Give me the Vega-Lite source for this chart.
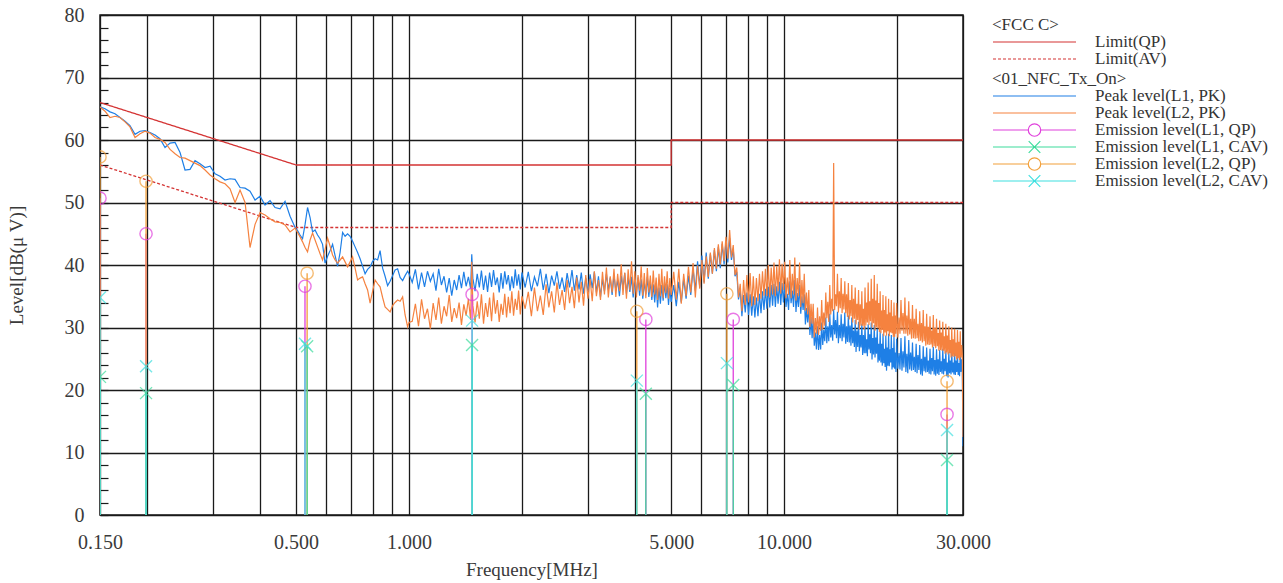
{
  "$schema": "https://vega.github.io/schema/vega-lite/v6.json",
  "width": 863,
  "height": 500,
  "autosize": {"type": "none"},
  "padding": {"left": 100, "top": 15, "right": 320, "bottom": 68},
  "background": "white",
  "datasets": {
    "limit": [
      {"s": "Limit(QP)", "f": 0.15, "v": 66},
      {"s": "Limit(QP)", "f": 0.5, "v": 56},
      {"s": "Limit(QP)", "f": 5, "v": 56},
      {"s": "Limit(QP)", "f": 5, "v": 60},
      {"s": "Limit(QP)", "f": 30, "v": 60},
      {"s": "Limit(AV)", "f": 0.15, "v": 56},
      {"s": "Limit(AV)", "f": 0.5, "v": 46},
      {"s": "Limit(AV)", "f": 5, "v": 46},
      {"s": "Limit(AV)", "f": 5, "v": 50},
      {"s": "Limit(AV)", "f": 30, "v": 50}
    ],
    "emission": [
      {"s": "L1QP", "f": 0.15, "v": 50.7},
      {"s": "L1QP", "f": 0.199, "v": 45.0},
      {"s": "L1QP", "f": 0.528, "v": 36.6},
      {"s": "L1QP", "f": 1.473, "v": 35.3},
      {"s": "L1QP", "f": 4.28, "v": 31.3},
      {"s": "L1QP", "f": 7.32, "v": 31.3},
      {"s": "L1QP", "f": 27.2, "v": 16.1},
      {"s": "L2QP", "f": 0.15, "v": 57.3},
      {"s": "L2QP", "f": 0.199, "v": 53.4},
      {"s": "L2QP", "f": 0.535, "v": 38.7},
      {"s": "L2QP", "f": 4.05, "v": 32.6},
      {"s": "L2QP", "f": 7.04, "v": 35.4},
      {"s": "L2QP", "f": 27.2, "v": 21.4},
      {"s": "L1CAV", "f": 0.15, "v": 22.1},
      {"s": "L1CAV", "f": 0.199, "v": 19.5},
      {"s": "L1CAV", "f": 0.535, "v": 27.0},
      {"s": "L1CAV", "f": 1.473, "v": 27.2},
      {"s": "L1CAV", "f": 4.28, "v": 19.4},
      {"s": "L1CAV", "f": 7.32, "v": 20.8},
      {"s": "L1CAV", "f": 27.2, "v": 8.8},
      {"s": "L2CAV", "f": 0.15, "v": 34.8},
      {"s": "L2CAV", "f": 0.199, "v": 23.8},
      {"s": "L2CAV", "f": 0.528, "v": 27.4},
      {"s": "L2CAV", "f": 1.473, "v": 31.1},
      {"s": "L2CAV", "f": 4.05, "v": 21.5},
      {"s": "L2CAV", "f": 7.04, "v": 24.3},
      {"s": "L2CAV", "f": 27.2, "v": 13.6}
    ],
    "trace": [
      {"f":0.15,"L1PK":65.3,"L2PK":65.3},{"f":0.1547,"L1PK":65.0,"L2PK":64.6},{"f":0.1595,"L1PK":64.5,"L2PK":63.6},{"f":0.1645,"L1PK":64.2,"L2PK":63.8},
      {"f":0.1696,"L1PK":63.6,"L2PK":63.6},{"f":0.1749,"L1PK":63.0,"L2PK":62.9},{"f":0.1803,"L1PK":62.3,"L2PK":62.1},{"f":0.186,"L1PK":60.9,"L2PK":60.4},
      {"f":0.1918,"L1PK":61.4,"L2PK":61.0},{"f":0.1977,"L1PK":61.5,"L2PK":61.4},{"f":0.2039,"L1PK":61.2,"L2PK":61.1},{"f":0.2103,"L1PK":60.8,"L2PK":60.4},
      {"f":0.2168,"L1PK":60.2,"L2PK":60.1},{"f":0.2236,"L1PK":58.8,"L2PK":59.6},{"f":0.2306,"L1PK":59.5,"L2PK":58.5},{"f":0.2378,"L1PK":59.6,"L2PK":57.8},
      {"f":0.2452,"L1PK":58.0,"L2PK":57.2},{"f":0.2528,"L1PK":55.2,"L2PK":57.1},{"f":0.2607,"L1PK":55.3,"L2PK":56.7},{"f":0.2688,"L1PK":56.7,"L2PK":56.3},
      {"f":0.2772,"L1PK":56.2,"L2PK":55.9},{"f":0.2859,"L1PK":55.6,"L2PK":55.2},{"f":0.2948,"L1PK":55.8,"L2PK":54.4},{"f":0.304,"L1PK":54.6,"L2PK":53.8},
      {"f":0.3134,"L1PK":54.2,"L2PK":53.3},{"f":0.3232,"L1PK":53.6,"L2PK":53.0},{"f":0.3333,"L1PK":53.8,"L2PK":52.2},{"f":0.3437,"L1PK":53.7,"L2PK":50.0},
      {"f":0.3544,"L1PK":52.4,"L2PK":52.0},{"f":0.3655,"L1PK":52.3,"L2PK":50.0},{"f":0.3768,"L1PK":51.8,"L2PK":42.8},{"f":0.3886,"L1PK":50.4,"L2PK":46.5},
      {"f":0.4007,"L1PK":51.0,"L2PK":48.4},{"f":0.4132,"L1PK":49.6,"L2PK":48.0},{"f":0.4261,"L1PK":50.3,"L2PK":47.4},{"f":0.4394,"L1PK":49.2,"L2PK":46.9},
      {"f":0.4531,"L1PK":49.0,"L2PK":46.8},{"f":0.4672,"L1PK":50.2,"L2PK":46.4},{"f":0.4818,"L1PK":47.8,"L2PK":45.3},{"f":0.4968,"L1PK":46.0,"L2PK":45.9},
      {"f":0.5045,"L1PK":45.5,"L2PK":45.2},{"f":0.5123,"L1PK":44.8,"L2PK":44.5},{"f":0.5202,"L1PK":44.2,"L2PK":43.7},{"f":0.5283,"L1PK":46.5,"L2PK":42.8},
      {"f":0.5364,"L1PK":49.2,"L2PK":42.1},{"f":0.5448,"L1PK":47.6,"L2PK":44.0},{"f":0.5531,"L1PK":45.3,"L2PK":45.1},{"f":0.5617,"L1PK":45.6,"L2PK":44.0},
      {"f":0.5704,"L1PK":44.8,"L2PK":42.9},{"f":0.5793,"L1PK":44.2,"L2PK":41.8},{"f":0.5882,"L1PK":43.3,"L2PK":40.8},{"f":0.5973,"L1PK":40.3,"L2PK":42.5},
      {"f":0.6066,"L1PK":41.4,"L2PK":44.3},{"f":0.616,"L1PK":42.3,"L2PK":43.0},{"f":0.6255,"L1PK":43.3,"L2PK":41.6},{"f":0.6352,"L1PK":41.5,"L2PK":40.8},
      {"f":0.645,"L1PK":39.8,"L2PK":40.3},{"f":0.655,"L1PK":42.0,"L2PK":40.8},{"f":0.6652,"L1PK":45.2,"L2PK":41.3},{"f":0.6754,"L1PK":44.6,"L2PK":40.5},
      {"f":0.6859,"L1PK":45.0,"L2PK":39.7},{"f":0.6965,"L1PK":44.6,"L2PK":40.5},{"f":0.7073,"L1PK":43.8,"L2PK":41.3},{"f":0.7182,"L1PK":42.9,"L2PK":39.5},
      {"f":0.7293,"L1PK":42.0,"L2PK":37.6},{"f":0.7406,"L1PK":41.0,"L2PK":37.9},{"f":0.7521,"L1PK":39.8,"L2PK":38.1},{"f":0.7637,"L1PK":38.6,"L2PK":37.0},
      {"f":0.7755,"L1PK":39.3,"L2PK":36.0},{"f":0.7875,"L1PK":39.7,"L2PK":33.9},{"f":0.7997,"L1PK":40.6,"L2PK":35.8},{"f":0.812,"L1PK":41.0,"L2PK":37.6},
      {"f":0.8247,"L1PK":40.8,"L2PK":37.0},{"f":0.8373,"L1PK":42.3,"L2PK":36.5},{"f":0.8504,"L1PK":39.5,"L2PK":34.8},{"f":0.8634,"L1PK":38.2,"L2PK":33.3},
      {"f":0.8769,"L1PK":36.7,"L2PK":32.9},{"f":0.8904,"L1PK":37.4,"L2PK":32.5},{"f":0.9043,"L1PK":38.3,"L2PK":33.5},{"f":0.9181,"L1PK":39.2,"L2PK":34.0},
      {"f":0.9325,"L1PK":39.4,"L2PK":34.4},{"f":0.9468,"L1PK":38.0,"L2PK":34.2},{"f":0.9616,"L1PK":37.5,"L2PK":34.9},{"f":0.9763,"L1PK":38.3,"L2PK":32.0},
      {"f":0.9916,"L1PK":39.0,"L2PK":30.1},{"f":1.0,"L1PK":38.6,"L2PK":30.8},
      {"f":1.02,"L1PK":37.2,"L2PK":31.0},{"f":1.04,"L1PK":39.3,"L2PK":33.8},{"f":1.06,"L1PK":36.1,"L2PK":30.2},{"f":1.08,"L1PK":38.8,"L2PK":34.5},
      {"f":1.10,"L1PK":36.5,"L2PK":31.4},{"f":1.12,"L1PK":39.0,"L2PK":33.0},{"f":1.14,"L1PK":37.4,"L2PK":29.8},{"f":1.16,"L1PK":38.6,"L2PK":33.9},
      {"f":1.18,"L1PK":35.9,"L2PK":31.2},{"f":1.20,"L1PK":39.4,"L2PK":34.8},{"f":1.22,"L1PK":36.8,"L2PK":30.6},{"f":1.24,"L1PK":38.2,"L2PK":33.4},
      {"f":1.26,"L1PK":35.6,"L2PK":31.8},{"f":1.28,"L1PK":37.9,"L2PK":35.2},{"f":1.30,"L1PK":35.1,"L2PK":30.9},{"f":1.32,"L1PK":37.6,"L2PK":33.1},
      {"f":1.34,"L1PK":36.0,"L2PK":31.5},{"f":1.36,"L1PK":38.4,"L2PK":34.0},{"f":1.38,"L1PK":36.3,"L2PK":30.4},{"f":1.40,"L1PK":38.9,"L2PK":33.7},
      {"f":1.42,"L1PK":36.6,"L2PK":31.9},{"f":1.44,"L1PK":38.1,"L2PK":34.6},{"f":1.46,"L1PK":36.2,"L2PK":31.2},{"f":1.47,"L1PK":41.7,"L2PK":40.5},
      {"f":1.48,"L1PK":37.9,"L2PK":33.5},{"f":1.50,"L1PK":35.8,"L2PK":30.8},{"f":1.52,"L1PK":38.6,"L2PK":34.2},{"f":1.54,"L1PK":36.4,"L2PK":31.4},
      {"f":1.56,"L1PK":39.1,"L2PK":35.3},{"f":1.58,"L1PK":36.0,"L2PK":30.6},{"f":1.60,"L1PK":38.3,"L2PK":33.9},{"f":1.62,"L1PK":35.7,"L2PK":31.7},
      {"f":1.64,"L1PK":38.8,"L2PK":34.8},{"f":1.66,"L1PK":36.5,"L2PK":31.0},{"f":1.68,"L1PK":39.2,"L2PK":35.6},{"f":1.70,"L1PK":36.8,"L2PK":32.2},
      {"f":1.72,"L1PK":38.0,"L2PK":34.4},{"f":1.74,"L1PK":35.6,"L2PK":30.9},{"f":1.76,"L1PK":38.7,"L2PK":33.8},{"f":1.78,"L1PK":36.2,"L2PK":32.0},
      {"f":1.80,"L1PK":39.0,"L2PK":35.4},{"f":1.82,"L1PK":36.9,"L2PK":31.6},{"f":1.84,"L1PK":38.4,"L2PK":34.9},{"f":1.86,"L1PK":35.9,"L2PK":32.3},
      {"f":1.88,"L1PK":38.2,"L2PK":35.8},{"f":1.90,"L1PK":36.3,"L2PK":31.9},{"f":1.92,"L1PK":39.3,"L2PK":34.6},{"f":1.94,"L1PK":36.7,"L2PK":32.8},
      {"f":1.96,"L1PK":38.5,"L2PK":35.9},{"f":1.98,"L1PK":36.1,"L2PK":32.1},{"f":2.00,"L1PK":38.8,"L2PK":35.0},
      {"f":2.04,"L1PK":36.4,"L2PK":33.0},{"f":2.08,"L1PK":38.9,"L2PK":35.7},{"f":2.12,"L1PK":35.8,"L2PK":31.8},{"f":2.16,"L1PK":38.1,"L2PK":36.4},
      {"f":2.20,"L1PK":36.6,"L2PK":32.6},{"f":2.24,"L1PK":39.4,"L2PK":35.1},{"f":2.28,"L1PK":36.0,"L2PK":32.0},{"f":2.32,"L1PK":38.6,"L2PK":36.9},
      {"f":2.36,"L1PK":35.5,"L2PK":33.2},{"f":2.40,"L1PK":38.3,"L2PK":35.8},{"f":2.44,"L1PK":36.7,"L2PK":32.4},{"f":2.48,"L1PK":39.0,"L2PK":37.2},
      {"f":2.52,"L1PK":36.2,"L2PK":33.6},{"f":2.56,"L1PK":38.0,"L2PK":36.0},{"f":2.60,"L1PK":35.7,"L2PK":32.8},{"f":2.64,"L1PK":38.7,"L2PK":37.6},
      {"f":2.68,"L1PK":36.4,"L2PK":33.9},{"f":2.72,"L1PK":39.2,"L2PK":36.5},{"f":2.76,"L1PK":35.9,"L2PK":33.1},{"f":2.80,"L1PK":38.4,"L2PK":38.0},
      {"f":2.84,"L1PK":36.1,"L2PK":34.0},{"f":2.88,"L1PK":38.8,"L2PK":37.3},{"f":2.92,"L1PK":35.4,"L2PK":33.5},{"f":2.96,"L1PK":37.9,"L2PK":38.4},
      {"f":3.00,"L1PK":35.8,"L2PK":34.6},{"f":3.04,"L1PK":38.5,"L2PK":37.8},{"f":3.08,"L1PK":36.3,"L2PK":34.2},{"f":3.12,"L1PK":38.9,"L2PK":39.0},
      {"f":3.16,"L1PK":35.6,"L2PK":35.0},{"f":3.20,"L1PK":38.2,"L2PK":37.6},{"f":3.24,"L1PK":34.9,"L2PK":34.4},{"f":3.28,"L1PK":37.7,"L2PK":38.9},
      {"f":3.32,"L1PK":35.8,"L2PK":35.3},{"f":3.36,"L1PK":38.6,"L2PK":39.6},{"f":3.40,"L1PK":36.0,"L2PK":34.8},{"f":3.44,"L1PK":38.0,"L2PK":38.2},
      {"f":3.48,"L1PK":35.2,"L2PK":35.6},{"f":3.52,"L1PK":38.4,"L2PK":39.4},{"f":3.56,"L1PK":35.9,"L2PK":34.9},{"f":3.60,"L1PK":37.6,"L2PK":38.6},
      {"f":3.64,"L1PK":35.0,"L2PK":35.8},{"f":3.68,"L1PK":38.3,"L2PK":40.1},{"f":3.72,"L1PK":36.2,"L2PK":35.2},{"f":3.76,"L1PK":38.7,"L2PK":38.8},
      {"f":3.80,"L1PK":35.4,"L2PK":34.6},{"f":3.84,"L1PK":37.9,"L2PK":39.3},{"f":3.88,"L1PK":35.7,"L2PK":36.0},{"f":3.92,"L1PK":38.1,"L2PK":40.6},
      {"f":3.96,"L1PK":34.8,"L2PK":35.4},{"f":4.00,"L1PK":37.4,"L2PK":39.0},{"f":4.04,"L1PK":35.6,"L2PK":34.8},{"f":4.08,"L1PK":38.0,"L2PK":38.4},
      {"f":4.12,"L1PK":35.1,"L2PK":35.9},{"f":4.16,"L1PK":37.7,"L2PK":39.8},{"f":4.20,"L1PK":34.6,"L2PK":35.1},{"f":4.24,"L1PK":37.2,"L2PK":38.7},
      {"f":4.28,"L1PK":35.3,"L2PK":34.7},{"f":4.32,"L1PK":38.1,"L2PK":39.5},{"f":4.36,"L1PK":34.9,"L2PK":35.6},{"f":4.40,"L1PK":37.5,"L2PK":38.3},
      {"f":4.44,"L1PK":34.4,"L2PK":34.9},{"f":4.48,"L1PK":36.9,"L2PK":39.1},{"f":4.52,"L1PK":34.0,"L2PK":35.3},{"f":4.56,"L1PK":37.1,"L2PK":38.0},
      {"f":4.60,"L1PK":33.2,"L2PK":34.4},{"f":4.64,"L1PK":36.4,"L2PK":38.6},{"f":4.68,"L1PK":33.8,"L2PK":35.0},{"f":4.72,"L1PK":36.8,"L2PK":39.4},
      {"f":4.76,"L1PK":34.3,"L2PK":34.7},{"f":4.80,"L1PK":37.2,"L2PK":38.2},{"f":4.84,"L1PK":34.7,"L2PK":35.5},{"f":4.88,"L1PK":36.9,"L2PK":39.0},
      {"f":4.92,"L1PK":33.6,"L2PK":34.6},{"f":4.96,"L1PK":36.3,"L2PK":37.9},{"f":5.00,"L1PK":34.1,"L2PK":35.2},
      {"f":5.08,"L1PK":36.8,"L2PK":38.9},{"f":5.16,"L1PK":33.4,"L2PK":34.5},{"f":5.24,"L1PK":37.3,"L2PK":39.4},{"f":5.32,"L1PK":34.0,"L2PK":33.8},
      {"f":5.40,"L1PK":37.8,"L2PK":38.6},{"f":5.48,"L1PK":34.6,"L2PK":35.0},{"f":5.56,"L1PK":38.3,"L2PK":39.7},{"f":5.64,"L1PK":35.2,"L2PK":35.6},
      {"f":5.72,"L1PK":39.4,"L2PK":40.3},{"f":5.80,"L1PK":35.9,"L2PK":34.8},{"f":5.88,"L1PK":40.6,"L2PK":39.9},{"f":5.96,"L1PK":36.4,"L2PK":36.2},
      {"f":6.04,"L1PK":41.5,"L2PK":40.8},{"f":6.12,"L1PK":37.2,"L2PK":37.0},{"f":6.20,"L1PK":42.0,"L2PK":41.4},{"f":6.28,"L1PK":37.8,"L2PK":38.1},
      {"f":6.36,"L1PK":41.8,"L2PK":42.0},{"f":6.44,"L1PK":38.6,"L2PK":38.6},{"f":6.52,"L1PK":42.4,"L2PK":42.7},{"f":6.60,"L1PK":39.0,"L2PK":39.4},
      {"f":6.68,"L1PK":42.9,"L2PK":43.3},{"f":6.76,"L1PK":39.5,"L2PK":40.1},{"f":6.84,"L1PK":43.4,"L2PK":43.8},{"f":6.92,"L1PK":40.1,"L2PK":40.6},
      {"f":7.00,"L1PK":43.8,"L2PK":44.5},{"f":7.08,"L1PK":40.4,"L2PK":41.0},{"f":7.16,"L1PK":44.3,"L2PK":45.6},{"f":7.24,"L1PK":40.8,"L2PK":41.2},
      {"f":7.32,"L1PK":42.6,"L2PK":43.2},{"f":7.40,"L1PK":38.2,"L2PK":38.4},{"f":7.48,"L1PK":38.9,"L2PK":39.6},{"f":7.56,"L1PK":34.5,"L2PK":34.8},
      {"f":7.64,"L1PK":36.0,"L2PK":37.0},{"f":7.72,"L1PK":31.8,"L2PK":32.6},{"f":7.80,"L1PK":35.2,"L2PK":37.6},{"f":7.88,"L1PK":32.4,"L2PK":33.6},
      {"f":7.96,"L1PK":35.6,"L2PK":38.4},{"f":8.04,"L1PK":32.0,"L2PK":34.0},{"f":8.12,"L1PK":35.3,"L2PK":38.7},{"f":8.20,"L1PK":31.9,"L2PK":33.4},
      {"f":8.28,"L1PK":35.0,"L2PK":38.2},{"f":8.36,"L1PK":31.6,"L2PK":33.6},{"f":8.44,"L1PK":34.8,"L2PK":37.9},{"f":8.52,"L1PK":31.8,"L2PK":34.2},
      {"f":8.60,"L1PK":35.4,"L2PK":38.6},{"f":8.68,"L1PK":32.3,"L2PK":34.6},{"f":8.76,"L1PK":35.8,"L2PK":39.0},{"f":8.84,"L1PK":32.8,"L2PK":35.1},
      {"f":8.92,"L1PK":36.2,"L2PK":39.4},{"f":9.00,"L1PK":33.0,"L2PK":35.0},{"f":9.08,"L1PK":36.5,"L2PK":40.0},{"f":9.16,"L1PK":33.2,"L2PK":34.8},
      {"f":9.24,"L1PK":36.8,"L2PK":39.6},{"f":9.32,"L1PK":33.5,"L2PK":35.3},{"f":9.40,"L1PK":37.0,"L2PK":40.4},{"f":9.48,"L1PK":33.3,"L2PK":35.0},
      {"f":9.56,"L1PK":36.6,"L2PK":39.8},{"f":9.64,"L1PK":33.8,"L2PK":35.8},{"f":9.72,"L1PK":37.3,"L2PK":40.9},{"f":9.80,"L1PK":33.6,"L2PK":35.4},
      {"f":9.88,"L1PK":37.1,"L2PK":40.2},{"f":9.96,"L1PK":34.0,"L2PK":36.0},
      {"f":10.04,"L1PK":37.0,"L2PK":40.5},{"f":10.12,"L1PK":33.3,"L2PK":34.7},{"f":10.20,"L1PK":35.4,"L2PK":38.0},{"f":10.28,"L1PK":32.8,"L2PK":35.2},
      {"f":10.36,"L1PK":37.4,"L2PK":40.8},{"f":10.44,"L1PK":33.9,"L2PK":34.7},{"f":10.52,"L1PK":35.9,"L2PK":38.6},{"f":10.60,"L1PK":33.3,"L2PK":35.3},
      {"f":10.68,"L1PK":37.6,"L2PK":41.2},{"f":10.76,"L1PK":32.5,"L2PK":34.3},{"f":10.84,"L1PK":35.5,"L2PK":37.9},{"f":10.92,"L1PK":33.3,"L2PK":35.0},
      {"f":11.00,"L1PK":36.8,"L2PK":40.4},{"f":11.08,"L1PK":32.2,"L2PK":33.3},{"f":11.16,"L1PK":35.0,"L2PK":37.6},{"f":11.24,"L1PK":32.8,"L2PK":33.9},
      {"f":11.32,"L1PK":35.3,"L2PK":38.6},{"f":11.40,"L1PK":30.5,"L2PK":32.7},{"f":11.48,"L1PK":33.1,"L2PK":35.6},{"f":11.56,"L1PK":30.8,"L2PK":32.1},
      {"f":11.64,"L1PK":33.6,"L2PK":36.0},{"f":11.72,"L1PK":28.8,"L2PK":30.1},{"f":11.80,"L1PK":31.7,"L2PK":33.8},{"f":11.88,"L1PK":28.3,"L2PK":30.6},
      {"f":11.96,"L1PK":31.6,"L2PK":33.8},{"f":12.04,"L1PK":27.1,"L2PK":28.4},{"f":12.12,"L1PK":29.2,"L2PK":31.5},{"f":12.20,"L1PK":26.5,"L2PK":29.0},
      {"f":12.28,"L1PK":30.2,"L2PK":33.2},{"f":12.36,"L1PK":26.4,"L2PK":28.8},{"f":12.44,"L1PK":28.8,"L2PK":31.8},{"f":12.52,"L1PK":26.5,"L2PK":29.5},
      {"f":12.60,"L1PK":30.8,"L2PK":34.4},{"f":12.68,"L1PK":27.2,"L2PK":29.7},{"f":12.76,"L1PK":29.6,"L2PK":32.4},{"f":12.84,"L1PK":27.8,"L2PK":30.3},
      {"f":12.92,"L1PK":31.6,"L2PK":35.6},{"f":13.00,"L1PK":27.5,"L2PK":31.5},{"f":13.08,"L1PK":30.2,"L2PK":34.1},{"f":13.16,"L1PK":27.8,"L2PK":30.9},
      {"f":13.24,"L1PK":32.2,"L2PK":36.8},{"f":13.32,"L1PK":28.4,"L2PK":32.1},{"f":13.40,"L1PK":30.4,"L2PK":34.6},{"f":13.48,"L1PK":27.9,"L2PK":32.6},
      {"f":13.56,"L1PK":32.9,"L2PK":56.3},{"f":13.64,"L1PK":28.9,"L2PK":32.8},{"f":13.72,"L1PK":31.2,"L2PK":35.3},{"f":13.80,"L1PK":28.3,"L2PK":33.4},
      {"f":13.88,"L1PK":32.5,"L2PK":38.6},{"f":13.96,"L1PK":27.5,"L2PK":32.4},{"f":14.04,"L1PK":30.4,"L2PK":35.8},{"f":14.12,"L1PK":28.3,"L2PK":33.1},
      {"f":14.20,"L1PK":32.1,"L2PK":37.9},{"f":14.28,"L1PK":27.8,"L2PK":32.3},{"f":14.36,"L1PK":30.6,"L2PK":35.4},{"f":14.44,"L1PK":28.4,"L2PK":32.9},
      {"f":14.52,"L1PK":32.4,"L2PK":37.4},{"f":14.60,"L1PK":27.4,"L2PK":32.3},{"f":14.68,"L1PK":30.2,"L2PK":35.3},{"f":14.76,"L1PK":27.7,"L2PK":31.7},
      {"f":14.84,"L1PK":31.9,"L2PK":37.1},{"f":14.92,"L1PK":27.6,"L2PK":31.3},{"f":15.00,"L1PK":30.3,"L2PK":34.4},{"f":15.08,"L1PK":27.1,"L2PK":31.8},
      {"f":15.16,"L1PK":31.6,"L2PK":36.8},{"f":15.24,"L1PK":27.5,"L2PK":30.8},{"f":15.32,"L1PK":29.5,"L2PK":34.6},{"f":15.40,"L1PK":26.9,"L2PK":31.4},
      {"f":15.48,"L1PK":31.2,"L2PK":36.4},{"f":15.56,"L1PK":26.1,"L2PK":30.5},{"f":15.64,"L1PK":29.5,"L2PK":33.8},{"f":15.72,"L1PK":26.9,"L2PK":31.2},
      {"f":15.80,"L1PK":30.9,"L2PK":36.0},{"f":15.88,"L1PK":26.2,"L2PK":29.7},{"f":15.96,"L1PK":28.8,"L2PK":33.7},{"f":16.04,"L1PK":26.8,"L2PK":30.3},
      {"f":16.12,"L1PK":30.6,"L2PK":35.8},{"f":16.20,"L1PK":25.6,"L2PK":30.3},{"f":16.28,"L1PK":28.8,"L2PK":33.0},{"f":16.36,"L1PK":25.9,"L2PK":29.7},
      {"f":16.44,"L1PK":30.2,"L2PK":36.4},{"f":16.52,"L1PK":25.9,"L2PK":30.3},{"f":16.60,"L1PK":28.1,"L2PK":34.0},{"f":16.68,"L1PK":25.4,"L2PK":30.8},
      {"f":16.76,"L1PK":30.5,"L2PK":37.2},{"f":16.84,"L1PK":26.5,"L2PK":30.4},{"f":16.92,"L1PK":28.9,"L2PK":34.2},{"f":17.00,"L1PK":25.9,"L2PK":31.0},
      {"f":17.08,"L1PK":30.8,"L2PK":37.8},{"f":17.16,"L1PK":24.9,"L2PK":30.0},{"f":17.24,"L1PK":28.3,"L2PK":34.6},{"f":17.32,"L1PK":25.7,"L2PK":30.7},
      {"f":17.40,"L1PK":30.4,"L2PK":38.4},{"f":17.48,"L1PK":25.2,"L2PK":29.5},{"f":17.56,"L1PK":28.4,"L2PK":34.3},{"f":17.64,"L1PK":25.8,"L2PK":30.1},
      {"f":17.72,"L1PK":29.8,"L2PK":37.0},{"f":17.80,"L1PK":24.4,"L2PK":29.9},{"f":17.88,"L1PK":27.4,"L2PK":33.9},{"f":17.96,"L1PK":24.7,"L2PK":29.3},
      {"f":18.04,"L1PK":29.4,"L2PK":35.8},{"f":18.12,"L1PK":24.4,"L2PK":29.1},{"f":18.20,"L1PK":27.4,"L2PK":32.7},{"f":18.28,"L1PK":23.9,"L2PK":29.6},
      {"f":18.36,"L1PK":29.0,"L2PK":35.2},{"f":18.44,"L1PK":24.3,"L2PK":28.6},{"f":18.52,"L1PK":26.6,"L2PK":32.8},{"f":18.60,"L1PK":23.7,"L2PK":29.2},
      {"f":18.68,"L1PK":28.7,"L2PK":35.0},{"f":18.76,"L1PK":23.1,"L2PK":28.7},{"f":18.84,"L1PK":26.8,"L2PK":32.1},{"f":18.92,"L1PK":23.9,"L2PK":29.4},
      {"f":19.00,"L1PK":29.0,"L2PK":34.6},{"f":19.08,"L1PK":23.8,"L2PK":28.6},{"f":19.16,"L1PK":26.5,"L2PK":32.4},{"f":19.24,"L1PK":24.4,"L2PK":29.2},
      {"f":19.32,"L1PK":28.8,"L2PK":34.4},{"f":19.40,"L1PK":23.3,"L2PK":29.1},{"f":19.48,"L1PK":26.7,"L2PK":31.8},{"f":19.56,"L1PK":23.6,"L2PK":28.5},
      {"f":19.64,"L1PK":28.5,"L2PK":34.0},{"f":19.72,"L1PK":23.4,"L2PK":28.5},{"f":19.80,"L1PK":26.0,"L2PK":31.9},{"f":19.88,"L1PK":22.9,"L2PK":29.0},
      {"f":19.96,"L1PK":28.2,"L2PK":33.9},{"f":20.10,"L1PK":23.4,"L2PK":28.4},
      {"f":20.25,"L1PK":25.9,"L2PK":31.6},{"f":20.375,"L1PK":23.3,"L2PK":29.0},{"f":20.50,"L1PK":28.3,"L2PK":34.4},{"f":20.625,"L1PK":23.1,"L2PK":29.5},
      {"f":20.75,"L1PK":26.2,"L2PK":32.3},{"f":20.875,"L1PK":23.6,"L2PK":29.0},{"f":21.00,"L1PK":28.6,"L2PK":34.8},{"f":21.125,"L1PK":22.9,"L2PK":29.0},
      {"f":21.25,"L1PK":25.8,"L2PK":31.9},{"f":21.375,"L1PK":22.7,"L2PK":28.7},{"f":21.50,"L1PK":28.0,"L2PK":34.2},{"f":21.625,"L1PK":23.3,"L2PK":28.9},
      {"f":21.75,"L1PK":26.0,"L2PK":31.4},{"f":21.875,"L1PK":23.1,"L2PK":28.2},{"f":22.00,"L1PK":27.6,"L2PK":33.6},{"f":22.125,"L1PK":23.2,"L2PK":28.3},
      {"f":22.25,"L1PK":25.3,"L2PK":31.4},{"f":22.375,"L1PK":22.9,"L2PK":28.2},{"f":22.50,"L1PK":27.4,"L2PK":33.0},{"f":22.625,"L1PK":22.7,"L2PK":28.3},
      {"f":22.75,"L1PK":25.6,"L2PK":30.6},{"f":22.875,"L1PK":23.2,"L2PK":27.8},{"f":23.00,"L1PK":27.2,"L2PK":32.6},{"f":23.125,"L1PK":22.5,"L2PK":27.9},
      {"f":23.25,"L1PK":25.0,"L2PK":30.7},{"f":23.375,"L1PK":22.3,"L2PK":27.6},{"f":23.50,"L1PK":27.0,"L2PK":32.8},{"f":23.625,"L1PK":23.0,"L2PK":27.8},
      {"f":23.75,"L1PK":25.3,"L2PK":30.2},{"f":23.875,"L1PK":22.8,"L2PK":27.1},{"f":24.00,"L1PK":26.8,"L2PK":32.2},{"f":24.125,"L1PK":22.9,"L2PK":27.3},
      {"f":24.25,"L1PK":24.7,"L2PK":30.1},{"f":24.375,"L1PK":22.6,"L2PK":27.2},{"f":24.50,"L1PK":26.6,"L2PK":31.8},{"f":24.625,"L1PK":22.5,"L2PK":27.3},
      {"f":24.75,"L1PK":25.1,"L2PK":29.5},{"f":24.875,"L1PK":23.0,"L2PK":26.8},{"f":25.00,"L1PK":26.9,"L2PK":32.0},{"f":25.125,"L1PK":22.5,"L2PK":27.0},
      {"f":25.25,"L1PK":24.8,"L2PK":29.9},{"f":25.375,"L1PK":22.3,"L2PK":26.7},{"f":25.50,"L1PK":26.5,"L2PK":31.4},{"f":25.625,"L1PK":22.6,"L2PK":27.0},
      {"f":25.75,"L1PK":24.9,"L2PK":29.1},{"f":25.875,"L1PK":22.4,"L2PK":26.3},{"f":26.00,"L1PK":26.4,"L2PK":31.1},{"f":26.125,"L1PK":22.9,"L2PK":26.4},
      {"f":26.25,"L1PK":24.6,"L2PK":29.2},{"f":26.375,"L1PK":22.6,"L2PK":26.3},{"f":26.50,"L1PK":26.6,"L2PK":30.9},{"f":26.625,"L1PK":22.5,"L2PK":26.3},
      {"f":26.75,"L1PK":25.0,"L2PK":28.6},{"f":26.875,"L1PK":23.0,"L2PK":25.8},{"f":27.00,"L1PK":26.3,"L2PK":30.6},{"f":27.125,"L1PK":22.2,"L2PK":26.0},
      {"f":27.25,"L1PK":24.4,"L2PK":28.7},{"f":27.375,"L1PK":22.0,"L2PK":25.7},{"f":27.50,"L1PK":26.1,"L2PK":30.2},{"f":27.625,"L1PK":22.7,"L2PK":25.9},
      {"f":27.75,"L1PK":24.7,"L2PK":28.0},{"f":27.875,"L1PK":22.5,"L2PK":25.2},{"f":28.00,"L1PK":26.2,"L2PK":30.0},{"f":28.125,"L1PK":22.8,"L2PK":25.4},
      {"f":28.25,"L1PK":24.4,"L2PK":28.1},{"f":28.375,"L1PK":22.5,"L2PK":25.3},{"f":28.50,"L1PK":26.0,"L2PK":29.8},{"f":28.625,"L1PK":22.4,"L2PK":25.4},
      {"f":28.75,"L1PK":24.7,"L2PK":27.6},{"f":28.875,"L1PK":22.9,"L2PK":24.9},{"f":29.00,"L1PK":25.8,"L2PK":29.6},{"f":29.125,"L1PK":22.4,"L2PK":25.1},
      {"f":29.25,"L1PK":24.3,"L2PK":27.7},{"f":29.375,"L1PK":22.2,"L2PK":24.8},{"f":29.50,"L1PK":26.4,"L2PK":29.4},{"f":29.625,"L1PK":22.9,"L2PK":25.2},
      {"f":29.75,"L1PK":24.9,"L2PK":27.2},{"f":29.875,"L1PK":23.0,"L2PK":25.6},{"f":30.00,"L1PK":11.0,"L2PK":12.5}
    ]
  },
  "encoding": {
    "x": {
      "field": "f",
      "type": "quantitative",
      "scale": {"type": "log", "domain": [0.15, 30], "nice": false},
      "axis": {
        "title": "Frequency[MHz]",
        "values": [0.15, 0.2, 0.3, 0.4, 0.5, 0.6, 0.7, 0.8, 0.9, 1, 2, 3, 4, 5, 6, 7, 8, 9, 10, 20, 30],
        "labelExpr": "indexof([0.15, 0.5, 1, 5, 10, 30], datum.value) >= 0 ? format(datum.value, '.3f') : ''",
        "labelOverlap": false,
        "labelFlush": false,
        "ticks": false,
        "grid": true,
        "labelPadding": 17,
        "titlePadding": 8
      }
    },
    "y": {
      "field": "v",
      "type": "quantitative",
      "scale": {"domain": [0, 80], "nice": false, "zero": false},
      "axis": {
        "title": "Level[dB(μ V)]",
        "values": [0,2,4,6,8,10,12,14,16,18,20,22,24,26,28,30,32,34,36,38,40,42,44,46,48,50,52,54,56,58,60,62,64,66,68,70,72,74,76,78,80],
        "labelExpr": "datum.value % 10 == 0 ? datum.value : ''",
        "labelOverlap": false,
        "labelFlush": false,
        "ticks": true,
        "tickSize": -8,
        "tickColor": "#1a1a1a",
        "tickWidth": 1.2,
        "grid": true,
        "gridColor": {"condition": {"test": "datum.value % 10 == 0", "value": "#1a1a1a"}, "value": "transparent"},
        "labelPadding": 24,
        "titlePadding": 38
      }
    }
  },
  "layer": [
    {
      "data": {"name": "limit"},
      "mark": {"type": "line", "strokeWidth": 1.3, "clip": true},
      "encoding": {
        "color": {
          "field": "s", "type": "nominal",
          "scale": {"domain": ["Limit(QP)", "Limit(AV)"], "range": ["#d43333", "#d43333"]},
          "legend": {"title": "<FCC C>", "symbolType": "M-1,0H1"}
        },
        "strokeDash": {
          "field": "s", "type": "nominal",
          "scale": {"domain": ["Limit(QP)", "Limit(AV)"], "range": [[1, 0], [3, 2]]},
          "legend": {"title": "<FCC C>", "symbolType": "M-1,0H1"}
        }
      }
    },
    {
      "layer": [
        {
          "data": {"name": "trace"},
          "transform": [{"fold": ["L1PK"], "as": ["s", "v"]}],
          "mark": {"type": "line", "strokeWidth": 1.2, "clip": true},
          "encoding": {
            "color": {"field": "s", "type": "nominal"}
          }
        },
        {
          "data": {"name": "trace"},
          "transform": [{"fold": ["L2PK"], "as": ["s", "v"]}],
          "mark": {"type": "line", "strokeWidth": 1.2, "clip": true},
          "encoding": {
            "color": {"field": "s", "type": "nominal"}
          }
        },
        {
          "data": {"name": "emission"},
          "mark": {"type": "rule", "strokeWidth": 1.3, "clip": true},
          "encoding": {
            "y2": {"datum": 0},
            "color": {"field": "s", "type": "nominal"}
          }
        },
        {
          "data": {"name": "emission"},
          "transform": [{"filter": "datum.s == 'L1QP' || datum.s == 'L2QP'"}],
          "mark": {"type": "point", "shape": "circle", "filled": false, "size": 150, "strokeWidth": 1.4, "clip": true},
          "encoding": {
            "color": {"field": "s", "type": "nominal"}
          }
        },
        {
          "data": {"name": "emission"},
          "transform": [{"filter": "datum.s == 'L1CAV' || datum.s == 'L2CAV'"}],
          "mark": {"type": "point", "shape": "M-1,-1L1,1M-1,1L1,-1", "filled": false, "size": 144, "strokeWidth": 1.4, "clip": true},
          "encoding": {
            "color": {"field": "s", "type": "nominal"}
          }
        },
        {
          "data": {"name": "emission"},
          "mark": {"type": "point", "filled": false, "opacity": 0, "size": 10, "clip": true},
          "encoding": {
            "color": {"field": "s", "type": "nominal"},
            "shape": {
              "field": "s", "type": "nominal",
              "scale": {
                "domain": ["L1PK", "L2PK", "L1QP", "L1CAV", "L2QP", "L2CAV"],
                "range": [
                  "M-1,0H1",
                  "M-1,0H1",
                  "M-1,0H-0.15M0.15,0H1M0.15,0A0.15,0.15,0,1,1,-0.15,0A0.15,0.15,0,1,1,0.15,0",
                  "M-1,0H1M-0.14,-0.14L0.14,0.14M-0.14,0.14L0.14,-0.14",
                  "M-1,0H-0.15M0.15,0H1M0.15,0A0.15,0.15,0,1,1,-0.15,0A0.15,0.15,0,1,1,0.15,0",
                  "M-1,0H1M-0.14,-0.14L0.14,0.14M-0.14,0.14L0.14,-0.14"
                ]
              },
              "legend": {
                "title": "<01_NFC_Tx_On>",
                "labelExpr": "datum.label == 'L1PK' ? 'Peak level(L1, PK)' : datum.label == 'L2PK' ? 'Peak level(L2, PK)' : datum.label == 'L1QP' ? 'Emission level(L1, QP)' : datum.label == 'L1CAV' ? 'Emission level(L1, CAV)' : datum.label == 'L2QP' ? 'Emission level(L2, QP)' : 'Emission level(L2, CAV)'"
              }
            }
          }
        }
      ],
      "encoding": {
        "color": {
          "field": "s", "type": "nominal",
          "scale": {
            "domain": ["L1PK", "L2PK", "L1QP", "L1CAV", "L2QP", "L2CAV"],
            "range": ["#1e7fe6", "#f5823f", "#e040dc", "#3ddc9c", "#f2a03a", "#3fe0e0"]
          },
          "legend": {
            "title": "<01_NFC_Tx_On>",
            "labelExpr": "datum.label == 'L1PK' ? 'Peak level(L1, PK)' : datum.label == 'L2PK' ? 'Peak level(L2, PK)' : datum.label == 'L1QP' ? 'Emission level(L1, QP)' : datum.label == 'L1CAV' ? 'Emission level(L1, CAV)' : datum.label == 'L2QP' ? 'Emission level(L2, QP)' : 'Emission level(L2, CAV)'"
          }
        }
      }
    }
  ],
  "resolve": {"scale": {"color": "independent", "shape": "independent", "strokeDash": "independent"}},
  "config": {
    "font": "Liberation Serif",
    "view": {"stroke": "#1a1a1a", "strokeWidth": 1.5},
    "axis": {
      "labelFont": "Liberation Serif",
      "labelFontSize": 20,
      "labelColor": "#3a3a3a",
      "titleFont": "Liberation Serif",
      "titleFontSize": 19,
      "titleFontWeight": "normal",
      "titleColor": "#3a3a3a",
      "gridColor": "#1a1a1a",
      "gridOpacity": 1,
      "gridWidth": 1.3,
      "domain": false
    },
    "legend": {
      "orient": "right",
      "offset": 27,
      "padding": 2,
      "titleFont": "Liberation Serif",
      "titleFontSize": 17,
      "titleFontWeight": "normal",
      "titleColor": "#333333",
      "titlePadding": 0,
      "labelFont": "Liberation Serif",
      "labelFontSize": 17,
      "labelColor": "#333333",
      "labelOffset": 18,
      "labelLimit": 0,
      "symbolSize": 6889,
      "symbolStrokeWidth": 1.2,
      "symbolOpacity": 1,
      "symbolFillColor": "transparent",
      "rowPadding": 0,
      "clipHeight": 16,
      "layout": {"right": {"anchor": "start", "direction": "vertical", "margin": 0}}
    }
  }
}
